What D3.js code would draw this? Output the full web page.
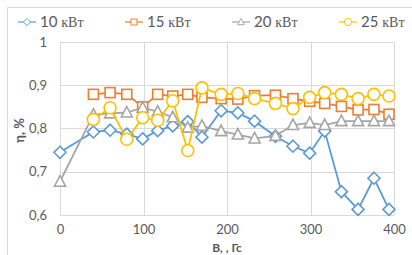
<!DOCTYPE html>
<html>
<head>
<meta charset="utf-8">
<script src="https://cdn.jsdelivr.net/npm/d3@7"></script>
<style>
  body { margin: 0; background: #fff; }
  svg { display: block; font-family: Lato, "Open Sans", sans-serif; }
</style>
</head>
<body>
<div id="chart"></div>
<script>
// magnetic induction, Гс
var fieldB = [0, 40, 60, 80, 99, 117, 135, 153, 170, 193, 213, 233, 258, 279, 299, 317, 337, 357, 376, 394];

// efficiency per power level (null = no point)
var eta10 = [0.745, 0.792, 0.796, 0.787, 0.776, 0.795, 0.806, 0.816, 0.780, 0.841, 0.836, 0.817, 0.782, 0.759, 0.743, 0.794, 0.654, 0.613, 0.685, 0.613];
var eta15 = [null, 0.879, 0.883, 0.879, 0.850, 0.879, 0.875, 0.879, 0.872, 0.869, 0.868, 0.876, 0.877, 0.869, 0.863, 0.858, 0.851, 0.843, 0.844, 0.833];
var eta20 = [0.677, 0.832, 0.835, 0.837, 0.848, 0.839, 0.826, 0.802, 0.806, 0.794, 0.786, 0.777, 0.783, 0.808, 0.813, 0.808, 0.817, 0.817, 0.817, 0.817];
var eta25 = [null, 0.821, 0.848, 0.775, 0.825, 0.819, 0.864, 0.749, 0.894, 0.879, 0.881, 0.869, 0.858, 0.846, 0.872, 0.883, 0.879, 0.869, 0.879, 0.875];

var seriesNames = ["10", "15", "20", "25"];
var xTicks = [0, 100, 200, 300, 400];
var yTicks = [0.6, 0.7, 0.8, 0.9, 1];

var W = 412, H = 255;
var margin = { top: 42, right: 18, bottom: 40, left: 60 };

var svg = d3.select("#chart").append("svg").attr("width", W).attr("height", H);

// chart frame
svg.append("path")
  .attr("d", "M7.5," + H + "V7.5H" + W)
  .attr("fill", "none")
  .attr("stroke", "#d9d9d9");

var x = d3.scaleLinear().domain([0, 400]).range([margin.left, W - margin.right]);
var y = d3.scaleLinear().domain([0.6, 1]).range([H - margin.bottom, margin.top]);

var fmt = function (d) { return d === 1 ? "1" : d3.format(".1f")(d).replace(".", ","); };

// grid
svg.append("g").selectAll("line").data(yTicks).enter().append("line")
  .attr("x1", x(0)).attr("x2", x(400))
  .attr("y1", function (d) { return Math.round(y(d)) + 0.5; })
  .attr("y2", function (d) { return Math.round(y(d)) + 0.5; })
  .attr("stroke", "#d9d9d9");
svg.append("g").selectAll("line").data(xTicks).enter().append("line")
  .attr("y1", y(0.6)).attr("y2", y(1))
  .attr("x1", function (d) { return Math.round(x(d)) + 0.5; })
  .attr("x2", function (d) { return Math.round(x(d)) + 0.5; })
  .attr("stroke", "#d9d9d9");

// axes labels via d3 axes, lines hidden
var yAxis = svg.append("g")
  .attr("transform", "translate(" + (x(0) - 6) + ",0)")
  .call(d3.axisLeft(y).tickValues(yTicks).tickFormat(fmt).tickSize(0).tickPadding(7));
var xAxis = svg.append("g")
  .attr("transform", "translate(0," + (y(0.6) + 3) + ")")
  .call(d3.axisBottom(x).tickValues(xTicks).tickSize(0).tickPadding(7));
[yAxis, xAxis].forEach(function (a) {
  a.select(".domain").remove();
  a.selectAll("text").attr("fill", "#595959").style("font-size", "13px").style("font-family", "Lato, sans-serif");
});

// axis titles
svg.append("text")
  .attr("x", (x(0) + x(400)) / 2).attr("y", 252)
  .attr("text-anchor", "middle")
  .attr("fill", "#595959").style("font-size", "12px").style("font-weight", "bold")
  .text("B, , Гс");
svg.append("text")
  .attr("transform", "translate(24," + (y(0.8) + 2) + ") rotate(-90)")
  .attr("text-anchor", "middle")
  .attr("fill", "#595959").style("font-size", "13px").style("font-weight", "bold")
  .text("η, %");

var colors = ["#5b9bd5", "#ed7d31", "#a5a5a5", "#ffc000"];
var allSeries = [eta10, eta15, eta20, eta25];

function marker(g, i, cx, cy) {
  var c = colors[i];
  if (i === 0) {
    g.append("path").attr("d", "M" + cx + "," + (cy - 6) + "L" + (cx + 6) + "," + cy + "L" + cx + "," + (cy + 6) + "L" + (cx - 6) + "," + cy + "Z")
      .attr("fill", "#fff").attr("stroke", c).attr("stroke-width", 1.6);
  } else if (i === 1) {
    g.append("rect").attr("x", cx - 5).attr("y", cy - 5).attr("width", 10).attr("height", 10)
      .attr("fill", "#fff").attr("stroke", c).attr("stroke-width", 1.6);
  } else if (i === 2) {
    g.append("path").attr("d", "M" + cx + "," + (cy - 6) + "L" + (cx + 5.5) + "," + (cy + 4.5) + "L" + (cx - 5.5) + "," + (cy + 4.5) + "Z")
      .attr("fill", "#fff").attr("stroke", c).attr("stroke-width", 1.6);
  } else {
    g.append("circle").attr("cx", cx).attr("cy", cy).attr("r", 6)
      .attr("fill", "#fff").attr("stroke", c).attr("stroke-width", 1.6);
  }
}

var line = d3.line()
  .defined(function (d) { return d[1] !== null; })
  .x(function (d) { return x(d[0]); })
  .y(function (d) { return y(d[1]); });

allSeries.forEach(function (vals, i) {
  var pts = fieldB.map(function (b, k) { return [b, vals[k]]; });
  var g = svg.append("g");
  g.append("path").datum(pts).attr("d", line)
    .attr("fill", "none").attr("stroke", colors[i]).attr("stroke-width", 1.8);
  pts.forEach(function (p) {
    if (p[1] !== null) marker(g, i, x(p[0]), y(p[1]));
  });
});

// legend
var legendX = [18, 125, 232, 339];
seriesNames.forEach(function (name, i) {
  var g = svg.append("g").attr("transform", "translate(" + legendX[i] + ",22)");
  g.append("line").attr("x1", 0).attr("x2", 18).attr("y1", 0).attr("y2", 0)
    .attr("stroke", colors[i]).attr("stroke-width", 1.2);
  var mg = g.append("g").attr("transform", "translate(9,0) scale(0.6)");
  marker(mg, i, 0, 0);
  var t = g.append("text").attr("x", 22).attr("y", 5).attr("fill", "#595959").style("font-size", "15px");
  t.append("tspan").text(name + " ");
  t.append("tspan").style("font-family", "'Liberation Serif', serif").style("font-size", "14px").text("кВт");
});
</script>
</body>
</html>
